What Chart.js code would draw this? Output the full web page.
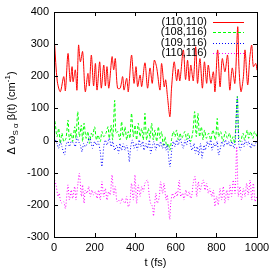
<!DOCTYPE html>
<html>
<head>
<meta charset="utf-8">
<script src="https://cdn.jsdelivr.net/npm/chart.js@4"></script>
<style>
  html, body { margin: 0; padding: 0; background: #fff; }
</style>
</head>
<body>
<canvas id="chart" width="275" height="269"></canvas>
<script>
const seriesLabels = ["(110,110)", "(108,116)", "(109,116)", "(110,116)"];
const xTicks = [0, 200, 400, 600, 800, 1000];
const yTicks = [-300, -200, -100, 0, 100, 200, 300, 400];

// (110,110)
const redT = [3, 16, 31, 48, 56, 69, 80, 89, 94, 105, 113, 121, 130, 141, 154, 167, 174, 184, 195, 204, 212, 225, 233, 245, 253, 261, 270, 286, 294, 302, 313, 326, 338, 345, 358, 366, 382, 394, 404, 412, 424, 432, 448, 461, 473, 484, 494, 505, 522, 530, 543, 550, 559, 571, 579, 592, 604, 612, 620, 637, 648, 658, 666, 674, 686, 698, 707, 719, 731, 741, 752, 760, 773, 785, 793, 806, 818, 829, 842, 855, 866, 878, 891, 905, 911, 921, 933, 941, 954, 965, 974, 982, 994, 1000];
const redV = [300, 185, 152, 199, 155, 271, 183, 230, 183, 220, 157, 297, 245, 277, 152, 209, 170, 266, 170, 240, 157, 245, 163, 235, 170, 230, 163, 261, 220, 255, 163, 163, 199, 157, 194, 152, 266, 178, 230, 168, 204, 168, 242, 163, 226, 178, 250, 230, 157, 240, 167, 189, 137, 74, 163, 245, 186, 222, 186, 282, 190, 250, 186, 235, 186, 292, 178, 255, 163, 245, 178, 235, 178, 214, 152, 282, 167, 255, 214, 266, 157, 226, 178, 354, 230, 152, 199, 282, 173, 261, 297, 230, 240, 219];

// (108,116)
const greenT = [5, 15, 23, 31, 39, 48, 59, 69, 76, 85, 92, 102, 108, 117, 125, 135, 141, 148, 158, 167, 174, 184, 190, 200, 209, 217, 228, 236, 245, 256, 266, 272, 282, 289, 299, 305, 315, 325, 333, 341, 350, 358, 366, 374, 382, 391, 399, 407, 415, 424, 432, 440, 448, 456, 465, 473, 481, 489, 497, 506, 514, 522, 530, 538, 547, 555, 563, 571, 580, 588, 596, 604, 612, 621, 629, 645, 653, 662, 673, 685, 693, 701, 709, 717, 726, 734, 742, 750, 762, 772, 783, 795, 804, 811, 821, 832, 844, 854, 865, 873, 882, 890, 903, 910, 919, 931, 939, 952, 959, 969, 980, 988, 1000];
const greenV = [60, 12, 38, -9, 23, -3, 7, 64, 2, 23, -3, 43, 7, 90, 12, 48, -3, 54, 7, 28, -9, 23, 12, 43, 2, 17, -3, 28, 12, 23, 43, 7, 48, 2, 125, 23, 28, 2, 59, 12, 43, 2, 28, 7, 85, 12, 48, 2, 54, 12, 38, 2, 85, 2, 38, 7, 54, 2, 33, -3, 43, 7, 28, -14, 12, -19, -9, -30, 7, 28, 12, 33, 2, 23, 7, 28, 2, 23, -3, 33, 90, 12, 85, 12, 43, 2, 33, 7, 23, 2, 33, 2, 69, 12, 28, -3, 28, 7, 23, -3, 12, -9, 137, 12, -3, 23, 2, 33, 7, 28, 7, 28, 12];

// (109,116)
const blueT = [7, 15, 23, 31, 39, 52, 59, 69, 76, 85, 97, 105, 113, 121, 130, 138, 146, 154, 167, 174, 184, 190, 200, 209, 217, 228, 236, 245, 253, 261, 272, 282, 289, 299, 310, 318, 325, 333, 341, 350, 358, 366, 371, 378, 387, 394, 404, 410, 420, 427, 437, 443, 453, 460, 470, 476, 486, 492, 502, 509, 519, 525, 535, 542, 552, 558, 571, 580, 588, 596, 604, 612, 621, 629, 637, 645, 653, 662, 673, 680, 690, 696, 706, 713, 722, 729, 739, 745, 755, 762, 772, 778, 788, 795, 804, 811, 821, 827, 837, 844, 854, 860, 870, 877, 887, 893, 903, 910, 919, 926, 936, 942, 952, 959, 969, 975, 985, 997];
const blueV = [2, -9, -24, -3, -19, -45, -14, -3, -19, -3, -9, -19, 12, -3, -14, -35, -9, -19, -3, 12, -9, -24, -3, -14, -3, -35, -81, -19, 2, -14, 7, -19, -3, -30, -14, -40, -9, -30, -10, -30, -14, -35, -66, -19, 2, -24, -9, -30, 2, -19, -3, -30, -9, -24, 2, -40, -14, -3, -30, -9, -19, -3, -24, -9, -30, -14, -81, -30, -3, -19, 2, -14, 7, -9, -24, 2, -14, 7, -14, -30, -9, -40, -19, -45, -9, -55, -14, -30, -3, -19, 2, -30, -9, -19, -3, -45, -19, -3, -19, 2, -14, -3, -19, -3, -24, -3, 137, -9, -30, -3, -19, 2, -14, -3, -24, -9, -19, -3];

// (110,116)
const magT = [3, 10, 20, 26, 31, 39, 48, 56, 64, 69, 76, 85, 92, 102, 108, 118, 125, 135, 141, 148, 154, 163, 171, 179, 187, 195, 204, 212, 220, 228, 236, 245, 253, 261, 269, 277, 286, 294, 302, 310, 318, 327, 335, 343, 350, 358, 366, 374, 382, 391, 399, 407, 415, 424, 432, 440, 448, 460, 469, 476, 486, 490, 502, 509, 519, 525, 535, 542, 552, 558, 570, 575, 584, 591, 601, 607, 617, 624, 634, 640, 650, 657, 666, 673, 678, 686, 695, 703, 711, 719, 727, 736, 744, 752, 760, 768, 777, 785, 793, 801, 809, 818, 826, 834, 842, 851, 859, 867, 875, 883, 892, 900, 908, 916, 924, 933, 941, 949, 957, 966, 974, 982, 990, 998];
const magV = [-123, -138, -174, -164, -185, -195, -190, -211, -164, -138, -185, -154, -180, -143, -185, -133, -102, -174, -138, -195, -154, -164, -143, -174, -154, -169, -159, -180, -154, -185, -128, -174, -149, -185, -159, -169, -107, -169, -143, -190, -185, -195, -180, -190, -195, -174, -206, -190, -133, -185, -107, -195, -138, -174, -143, -159, -133, -123, -169, -195, -206, -235, -164, -195, -174, -128, -164, -133, -185, -169, -245, -195, -164, -180, -159, -174, -123, -174, -164, -185, -154, -174, -159, -180, -174, -133, -112, -174, -128, -159, -138, -123, -154, -133, -164, -149, -174, -154, -205, -174, -200, -149, -185, -143, -195, -154, -185, -138, -174, -123, -164, -19, -174, -143, -185, -149, -174, -133, -169, -123, -185, -133, -190, -174];

const FONT = "'Liberation Sans', Arial, Helvetica, sans-serif";

function toPoints(ts, vs) {
  return ts.map((t, i) => ({ x: t, y: vs[i] }));
}

const gnuplotDeco = {
  id: "gnuplotDeco",
  afterDraw(chart) {
    const ctx = chart.ctx;
    const area = chart.chartArea;
    const xs = chart.scales.x;
    const ys = chart.scales.y;
    ctx.save();

    // frame
    ctx.strokeStyle = "#000";
    ctx.lineWidth = 1;
    ctx.setLineDash([]);
    ctx.strokeRect(Math.round(area.left) + 0.5, Math.round(area.top) + 0.5,
      Math.round(area.right - area.left), Math.round(area.bottom - area.top));

    // inward ticks on all sides
    const tl = 4;
    ctx.beginPath();
    xTicks.forEach(v => {
      const px = Math.round(xs.getPixelForValue(v)) + 0.5;
      ctx.moveTo(px, area.bottom); ctx.lineTo(px, area.bottom - tl);
      ctx.moveTo(px, area.top); ctx.lineTo(px, area.top + tl);
    });
    yTicks.forEach(v => {
      const py = Math.round(ys.getPixelForValue(v)) + 0.5;
      ctx.moveTo(area.left, py); ctx.lineTo(area.left + tl, py);
      ctx.moveTo(area.right, py); ctx.lineTo(area.right - tl, py);
    });
    ctx.stroke();

    // key, top right
    ctx.font = "11px " + FONT;
    ctx.fillStyle = "#000";
    ctx.textAlign = "right";
    ctx.textBaseline = "middle";
    chart.data.datasets.forEach((ds, i) => {
      const y = 22 + i * 10.3;
      ctx.fillText(ds.label, 207, y);
      ctx.strokeStyle = ds.borderColor;
      ctx.setLineDash(ds.borderDash || []);
      ctx.beginPath();
      ctx.moveTo(213, Math.round(y) + 0.5);
      ctx.lineTo(244, Math.round(y) + 0.5);
      ctx.stroke();
    });
    ctx.setLineDash([]);

    // x title
    ctx.textAlign = "center";
    ctx.textBaseline = "alphabetic";
    ctx.fillText("t (fs)", (area.left + area.right) / 2, 266);

    // y title with sub/superscripts
    const parts = [
      { t: "\u0394 \u03c9", s: 11, dy: 0 },
      { t: "S \u03b1", s: 8, dy: 3 },
      { t: " \u03b2(t) (cm", s: 11, dy: 0 },
      { t: "-1", s: 8, dy: -5 },
      { t: ")", s: 11, dy: 0 },
    ];
    let total = 0;
    parts.forEach(p => {
      ctx.font = p.s + "px " + FONT;
      p.w = ctx.measureText(p.t).width;
      total += p.w;
    });
    ctx.translate(15, 113);
    ctx.rotate(-Math.PI / 2);
    ctx.textAlign = "left";
    let cx = -total / 2;
    parts.forEach(p => {
      ctx.font = p.s + "px " + FONT;
      ctx.fillText(p.t, cx, p.dy);
      cx += p.w;
    });
    ctx.restore();
  },
};

const ctx = document.getElementById("chart").getContext("2d");
const chart = new Chart(ctx, {
  type: "line",
  data: {
    datasets: [
      { label: seriesLabels[0], data: toPoints(redT, redV), borderColor: "#ff0000", borderDash: [], order: 4 },
      { label: seriesLabels[1], data: toPoints(greenT, greenV), borderColor: "#00ff00", borderDash: [3, 2], order: 3 },
      { label: seriesLabels[2], data: toPoints(blueT, blueV), borderColor: "#0000ff", borderDash: [1, 2], order: 2 },
      { label: seriesLabels[3], data: toPoints(magT, magV), borderColor: "#ff00ff", borderDash: [1, 2], order: 1 },
    ],
  },
  options: {
    responsive: false,
    animation: false,
    devicePixelRatio: 1,
    layout: { padding: { left: 0, right: 18, top: 12, bottom: 0 } },
    elements: {
      point: { radius: 0 },
      line: { borderWidth: 1, tension: 0.3, fill: false },
    },
    plugins: {
      legend: { display: false },
      tooltip: { enabled: false },
    },
    scales: {
      x: {
        type: "linear",
        min: 0,
        max: 1000,
        afterBuildTicks: s => { s.ticks = xTicks.map(v => ({ value: v })); },
        afterFit: s => { s.height = 32; },
        grid: { display: false, drawTicks: false },
        border: { display: false },
        ticks: { color: "#000", padding: 4, maxRotation: 0, font: { family: FONT, size: 11 }, callback: v => String(v) },
      },
      y: {
        type: "linear",
        min: -300,
        max: 400,
        afterBuildTicks: s => { s.ticks = yTicks.map(v => ({ value: v })); },
        afterFit: s => { s.width = 54; },
        grid: { display: false, drawTicks: false },
        border: { display: false },
        ticks: { color: "#000", padding: 5, font: { family: FONT, size: 11 }, callback: v => String(v) },
      },
    },
  },
  plugins: [gnuplotDeco],
});
</script>
</body>
</html>
